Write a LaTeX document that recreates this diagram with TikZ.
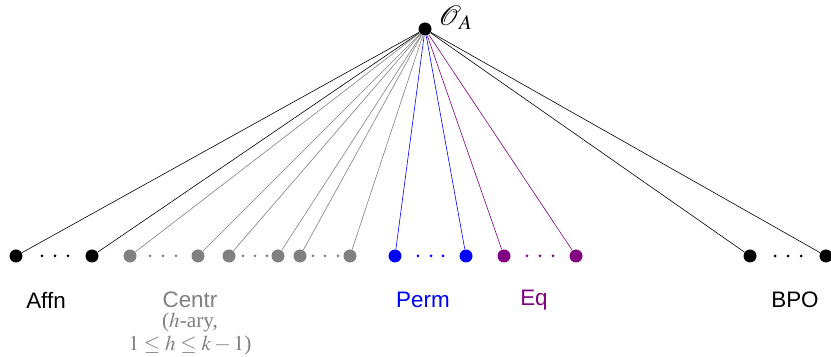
\documentclass[tikz,border=0pt]{standalone}
\usepackage{mathptmx}
\usepackage{fontspec}
\setmainfont{Liberation Serif}
\setsansfont{Liberation Sans}
\usepackage{tikz}
\usetikzlibrary{positioning}
\definecolor{eqpurple}{RGB}{128,0,128}

\begin{document}
\begin{tikzpicture}[
        x=0.5pt, y=-0.5pt,
        pt/.style={circle, fill=#1, inner sep=0pt, minimum size=6.5pt},
        edge/.style={draw=#1, line width=0.3pt},
        lbl/.style={font=\sffamily\fontsize{11.2}{12}\selectfont, text=#1, inner sep=0pt}
    ]
    \useasboundingbox (0,0) rectangle (831,357);
%
    % Nodes
    \node[pt=black] (top) at (425,29) {};
    \node[anchor=west, inner sep=0pt, font=\fontsize{14}{14}\selectfont] (oa) at (438,18) {$\mathcal{O}_A$};
    \foreach \name/\x/\c in {a1/16/black, a2/92/black,
        c1/130/gray, c2/198/gray, c3/229/gray, c4/278/gray, c5/300/gray, c6/350/gray,
        p1/395/blue, p2/466/blue, e1/504/eqpurple, e2/576/eqpurple,
        b1/750/black, b2/826/black}
        \node[pt=\c] (\name) at (\x,256) {};
%
    % Lines
    \foreach \name/\c in {a1/black, a2/black,
        c1/gray, c2/gray, c3/gray, c4/gray, c5/gray, c6/gray,
        p1/blue, p2/blue, e1/eqpurple, e2/eqpurple,
        b1/black, b2/black}
        \draw[edge=\c] (top) -- (\name);
%
    % Dots
    \foreach \x/\c in {42/black, 55/black, 68/black,
        150/gray, 163/gray, 176/gray,
        243/gray, 255/gray, 267/gray,
        313/gray, 325/gray, 338/gray,
        418/blue, 431/blue, 443/blue,
        527/eqpurple, 540/eqpurple, 553/eqpurple,
        775/black, 788/black, 801/black}
        \fill[\c] (\x,256) circle (0.75pt);
%
    % Labels
    \node[lbl=black] (affn) at (46,300) {Affn};
    \node[lbl=gray] (centr) at (190,300) {Centr};
    \node[below=2pt of centr, align=center, text=gray, font=\fontsize{10.6}{11.5}\selectfont, inner sep=0pt] (centrsub) {($h$-ary,\\ $1\le h\le k-1$)};
    \node[lbl=blue] (perm) at (423,300) {Perm};
    \node[lbl=eqpurple] (eq) at (534,300) {Eq};
    \node[lbl=black] (bpo) at (795,300) {BPO};
%
\end{tikzpicture}
\end{document}
